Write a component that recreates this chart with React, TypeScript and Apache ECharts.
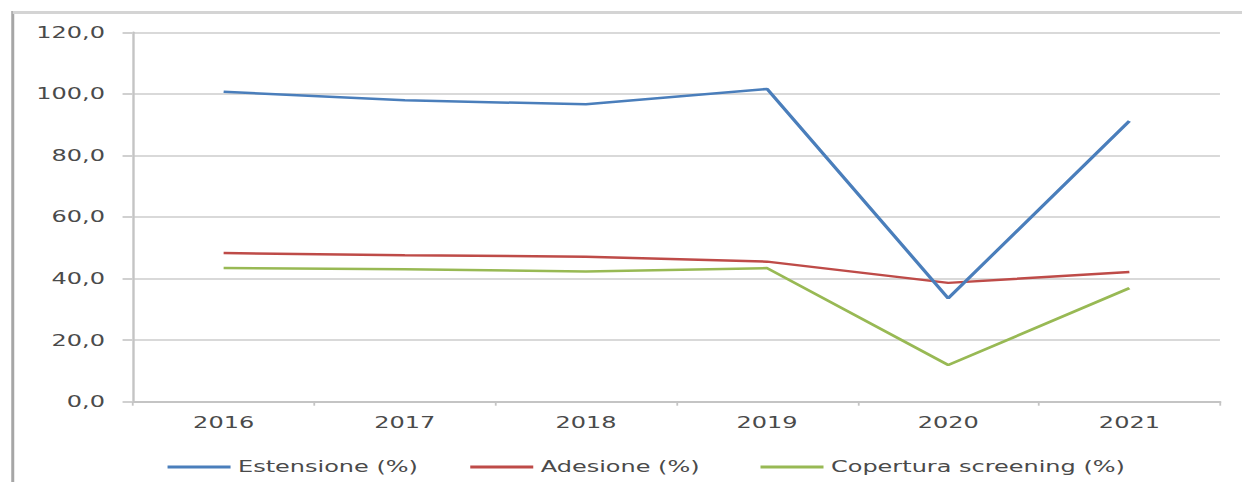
import React, { useEffect, useRef } from "react";
import * as echarts from "echarts";

const years = ["2016", "2017", "2018", "2019", "2020", "2021"];
const estensione = [100.7, 97.9, 96.6, 101.6, 33.6, 91.2];
const adesione = [48.3, 47.6, 47.1, 45.5, 38.6, 42.1];
const copertura = [43.4, 43.0, 42.3, 43.4, 11.9, 36.9];
const seriesNames = ["Estensione (%)", "Adesione (%)", "Copertura screening (%)"];
const colors = ["#4a7ebb", "#be4b48", "#98b954"];

const STRETCH = 1.5;
const W = 1242 / STRETCH;
const H = 482;
const FONT = "DejaVu Sans";
const TEXT = "#4a4a4a";

export default function App() {
  const ref = useRef<HTMLDivElement>(null);
  useEffect(() => {
    document.body.style.margin = "0";
    const chart = echarts.init(ref.current!, null, { renderer: "svg" });
    const legendBase = {
      top: 454,
      orient: "horizontal",
      icon: "rect",
      itemWidth: 42,
      itemHeight: 3,
      textStyle: { fontFamily: FONT, fontSize: 16, color: TEXT },
      selectedMode: false,
    };
    const series = [estensione, adesione, copertura].map((d, i) => ({
      name: seriesNames[i],
      type: "line",
      data: d,
      showSymbol: false,
      symbol: "none",
      lineStyle: { color: colors[i], width: 2.5 },
      itemStyle: { color: colors[i] },
      z: 3 - i,
    }));
    chart.setOption({
      animation: false,
      backgroundColor: "#ffffff",
      grid: { left: 88.7, right: 14.7, top: 32.3, bottom: 80.3, containLabel: false },
      legend: [
        { ...legendBase, left: 106.7, data: [seriesNames[0]] },
        { ...legendBase, left: 308.5, data: [seriesNames[1]] },
        { ...legendBase, left: 502, data: [seriesNames[2]] },
      ],
      xAxis: {
        type: "category",
        data: years,
        boundaryGap: true,
        axisLine: { show: true, lineStyle: { color: "#c4c4c4", width: 2 } },
        axisTick: { show: true, length: 4, lineStyle: { color: "#c4c4c4", width: 1.2 } },
        axisLabel: { fontFamily: FONT, fontSize: 16, color: TEXT, margin: 13 },
        splitLine: { show: false },
      },
      yAxis: {
        type: "value",
        min: 0,
        max: 120,
        interval: 20,
        axisLine: { show: true, lineStyle: { color: "#c4c4c4", width: 1.6 } },
        axisTick: { show: true, length: 7, lineStyle: { color: "#d0d0d0", width: 2 } },
        axisLabel: {
          fontFamily: FONT,
          fontSize: 16,
          color: TEXT,
          margin: 18.7,
          formatter: (v: number) => v.toFixed(1).replace(".", ","),
        },
        splitLine: { show: true, lineStyle: { color: "#d9d9d9", width: 2 } },
      },
      graphic: [
        {
          type: "line",
          shape: { x1: 8.5, y1: 11, x2: 8.5, y2: H },
          style: { stroke: "#a6a6a6", lineWidth: 2 },
          silent: true,
        },
        {
          type: "line",
          shape: { x1: 8.5, y1: 12.5, x2: W, y2: 12.5 },
          style: { stroke: "#d4d4d4", lineWidth: 3 },
          silent: true,
        },
      ],
      series,
    });
    return () => chart.dispose();
  }, []);
  return (
    <div style={{ width: 1242, height: H, overflow: "hidden", background: "#fff" }}>
      <div
        ref={ref}
        style={{
          width: W,
          height: H,
          transform: `scaleX(${STRETCH})`,
          transformOrigin: "0 0",
        }}
      />
    </div>
  );
}
